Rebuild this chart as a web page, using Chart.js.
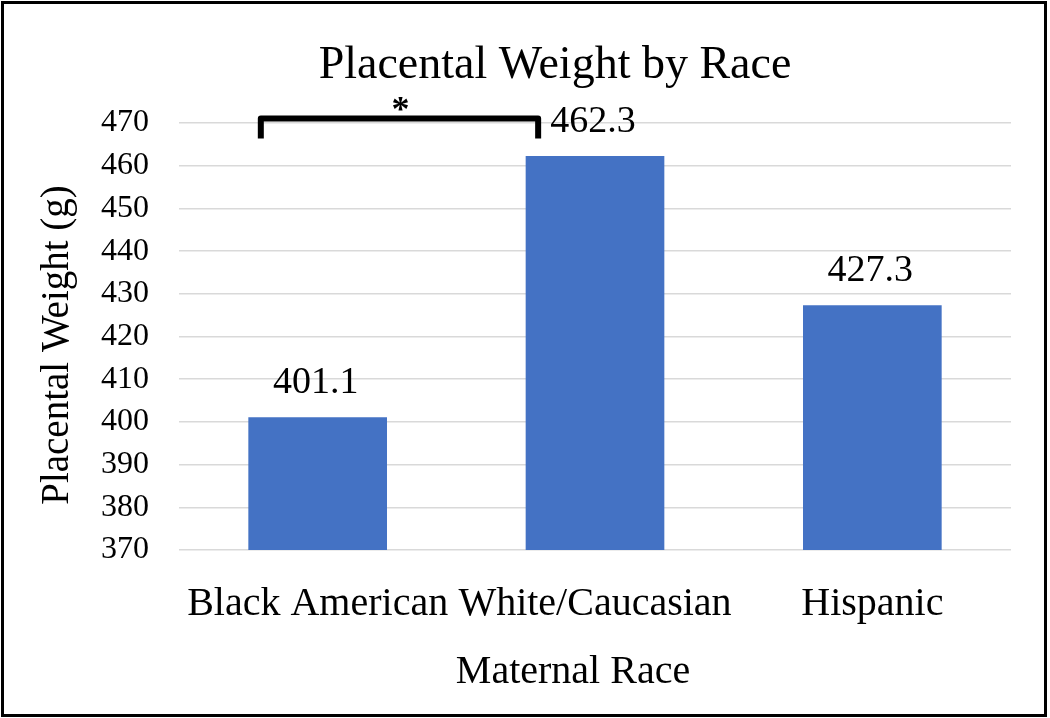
<!DOCTYPE html>
<html>
<head>
<meta charset="utf-8">
<script src="https://cdn.jsdelivr.net/npm/chart.js@4"></script>
<style>
  html, body { margin: 0; padding: 0; background: #fff; }
  #wrap { position: relative; width: 1050px; height: 718px; }
  #frame {
    position: absolute; left: 1px; top: 1px; width: 1046px; height: 716px;
    border: 3px solid #000; box-sizing: border-box; pointer-events: none;
  }
</style>
</head>
<body>
<div id="wrap">
  <canvas id="chart" width="1050" height="718"></canvas>
  <div id="frame"></div>
</div>
<script>
// Datos del gráfico
const categories = ["Black American", "White/Caucasian", "Hispanic"];
const weights    = [401.1, 462.3, 427.3];
const yTicks     = [370, 380, 390, 400, 410, 420, 430, 440, 450, 460, 470];
const sigPairs   = [[0, 1]];   // pares con diferencia significativa
const sigMark    = "*";

const chartTitle = "Placental Weight by Race";
const yTitle     = "Placental Weight (g)";
const xTitle     = "Maternal Race";

const SERIF = "'Liberation Serif', 'Times New Roman', serif";
const BAR_COLOR = "#4472C4";

// ---------- Títulos (posición como en el original) ----------
const titles = {
  id: "titles",
  afterDraw(chart) {
    const { ctx } = chart;
    ctx.save();
    ctx.fillStyle = "#000";
    ctx.textAlign = "center";
    ctx.textBaseline = "alphabetic";

    ctx.font = `46px ${SERIF}`;
    ctx.fillText(chartTitle, 555, 78);

    ctx.font = `40px ${SERIF}`;
    ctx.fillText(xTitle, 573, 683);

    ctx.font = `39px ${SERIF}`;
    ctx.translate(68, 345);
    ctx.rotate(-Math.PI / 2);
    ctx.fillText(yTitle, 0, 0);
    ctx.restore();
  }
};

// ---------- Etiquetas de valor sobre las barras ----------
const valueLabels = {
  id: "valueLabels",
  afterDatasetsDraw(chart) {
    const { ctx } = chart;
    const meta = chart.getDatasetMeta(0);
    ctx.save();
    ctx.font = `38px ${SERIF}`;
    ctx.fillStyle = "#000";
    ctx.textAlign = "center";
    ctx.textBaseline = "bottom";
    meta.data.forEach((bar, i) => {
      ctx.fillText(weights[i].toFixed(1), bar.x - 2, bar.y - 15);
    });
    ctx.restore();
  }
};

// ---------- Corchete de significancia ----------
const sigBracket = {
  id: "sigBracket",
  afterDatasetsDraw(chart) {
    const { ctx, scales: { x, y } } = chart;
    const half = (x.getPixelForValue(1) - x.getPixelForValue(0)) / 2;
    ctx.save();
    sigPairs.forEach(([a, b]) => {
      const x1 = x.getPixelForValue(a) - half * 0.41;
      const x2 = x.getPixelForValue(b) - half * 0.41;
      const top = y.getPixelForValue(yTicks[yTicks.length - 1]) - 4.5;
      const bottom = top + 20;
      ctx.strokeStyle = "#000";
      ctx.lineWidth = 6;
      ctx.lineJoin = "round";
      ctx.beginPath();
      ctx.moveTo(x1, bottom);
      ctx.lineTo(x1, top);
      ctx.lineTo(x2, top);
      ctx.lineTo(x2, bottom);
      ctx.stroke();
      ctx.font = `bold 36px ${SERIF}`;
      ctx.fillStyle = "#000";
      ctx.textAlign = "center";
      ctx.textBaseline = "alphabetic";
      ctx.fillText(sigMark, (x1 + x2) / 2 + 1, top + 2);
    });
    ctx.restore();
  }
};

new Chart(document.getElementById("chart"), {
  type: "bar",
  data: {
    labels: categories,
    datasets: [{
      data: weights,
      backgroundColor: BAR_COLOR,
      barPercentage: 0.5,
      categoryPercentage: 1.0
    }]
  },
  options: {
    responsive: false,
    animation: false,
    layout: { padding: { top: 123, left: 20, right: 39, bottom: 20 } },
    plugins: {
      legend: { display: false },
      tooltip: { enabled: false },
      title: { display: false }
    },
    scales: {
      y: {
        min: yTicks[0],
        max: yTicks[yTicks.length - 1],
        afterBuildTicks(scale) { scale.ticks = yTicks.map(v => ({ value: v })); },
        afterFit(scale) { scale.width = 159; },
        border: { display: false },
        grid: { color: "#d9d9d9", lineWidth: 1.5, drawTicks: false },
        ticks: {
          color: "#000",
          padding: 30,
          font: { family: SERIF, size: 32 }
        }
      },
      x: {
        afterFit(scale) { scale.height = 148; },
        border: { display: false },
        grid: { display: false },
        ticks: {
          color: "#000",
          padding: 22,
          maxRotation: 0,
          autoSkip: false,
          font: { family: SERIF, size: 40 }
        }
      }
    }
  },
  plugins: [valueLabels, sigBracket, titles]
});
</script>
</body>
</html>
